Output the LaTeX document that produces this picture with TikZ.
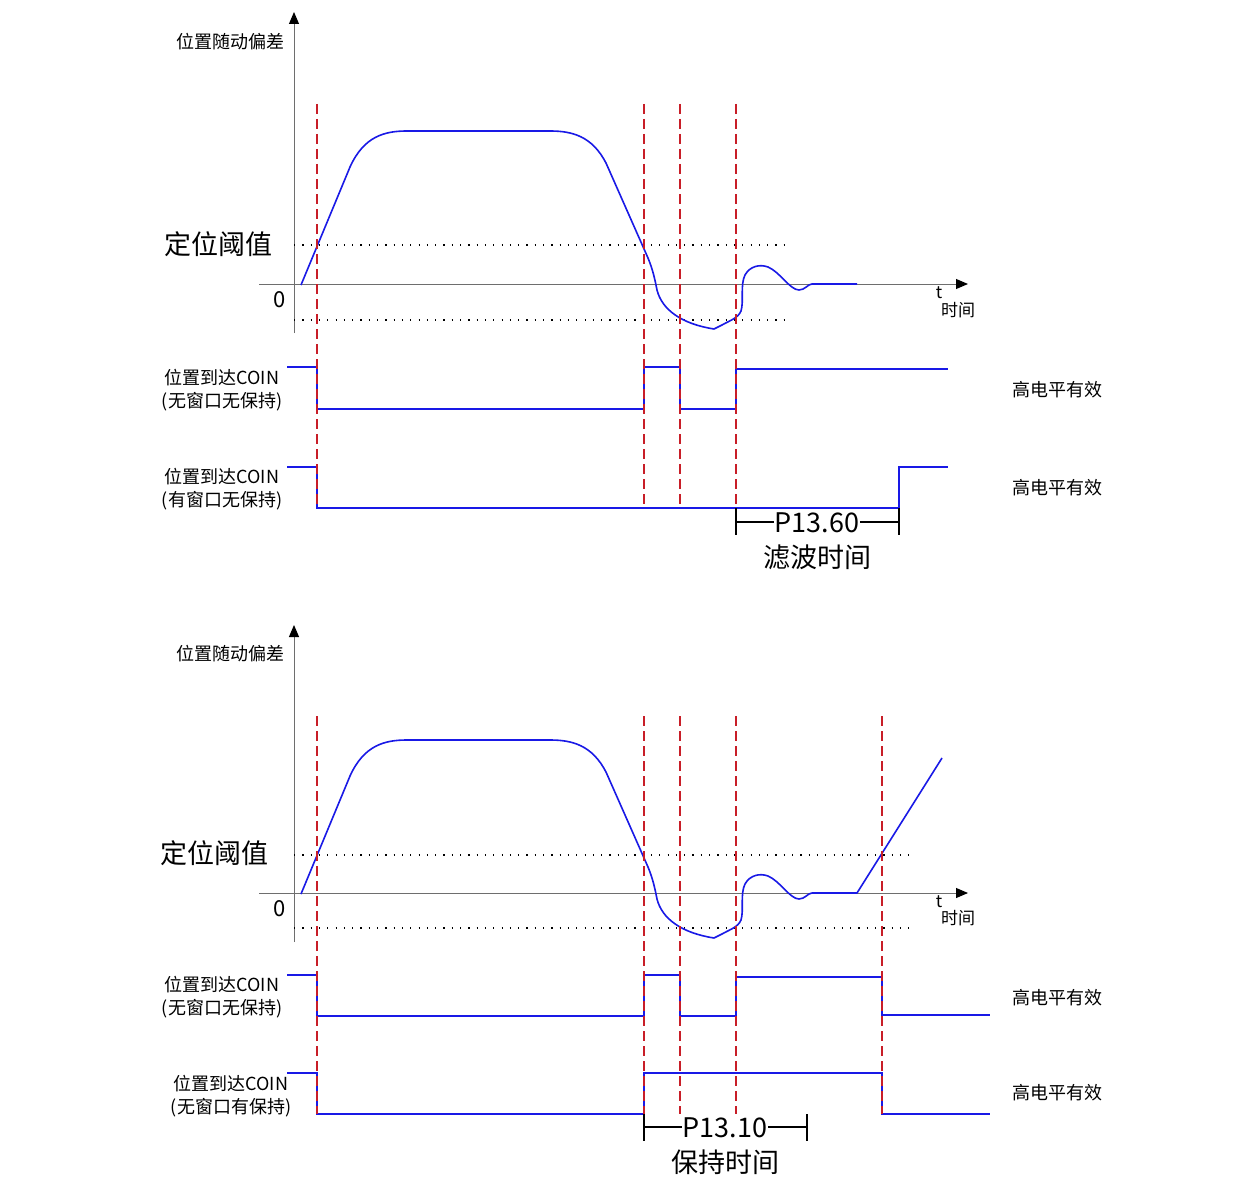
\documentclass[tikz,border=0pt]{standalone}
\usepackage{fontspec}
\newfontfamily\cjk{Noto Sans CJK SC}
\usetikzlibrary{arrows.meta}
\definecolor{sigblue}{RGB}{25,25,230}
\definecolor{mkred}{RGB}{200,30,40}
\definecolor{axgray}{RGB}{110,110,110}
\tikzset{
  axisline/.style={axgray, line width=1pt},
  axisarrow/.style={axisline, -{Triangle[length=12pt,width=10pt,color=black]}},
  dotline/.style={black, line width=1.1pt, dash pattern=on 1.2pt off 7.1pt},
  mkline/.style={mkred, line width=1.4pt, dash pattern=on 10pt off 5pt},
  sigline/.style={sigblue, line width=1.6pt},
  curveline/.style={sigblue, line width=1.6pt, line join=round},
  brline/.style={black, line width=1.2pt},
  lbl/.style={font=\cjk\fontsize{18}{23}\selectfont, inner sep=0pt, align=center, text=black},
  biglbl/.style={font=\cjk\fontsize{27}{30}\selectfont, inner sep=0pt, text=black},
  zerolbl/.style={font=\cjk\fontsize{22}{24}\selectfont, inner sep=0pt, text=black},
  tlbl/.style={font=\cjk\fontsize{17}{19}\selectfont, inner sep=0pt, text=black},
  parlbl/.style={font=\cjk\fontsize{27}{30}\selectfont, inner sep=1pt, fill=white, text=black},
}
\newcommand\devpath{(301,285) -- (350,167) .. controls (364,136) and (385,131) .. (407,131) -- (550,131) .. controls (572,131) and (592,136) .. (606,163) -- (648,258) .. controls (653,270) and (655,280) .. (657,290) .. controls (662,310) and (682,324) .. (714,329) -- (722,325) .. controls (731,320) and (738,318) .. (741,311) .. controls (744,302) and (740,285) .. (745,275) .. controls (750,266) and (760,264) .. (768,267) .. controls (780,272) and (790,290) .. (799,290) .. controls (805,290) and (808,284) .. (812,284)}
\begin{document}
\begin{tikzpicture}[x=1pt,y=-1pt]
\useasboundingbox (0,0) rectangle (1245,1196);
\fill[white] (0,0) rectangle (1245,1196);

% ================= TOP PANEL =================
\coordinate (tyb) at (294,333);
\coordinate (tyt) at (294,12);
\coordinate (txl) at (259,284);
\coordinate (txr) at (968,284);
\draw[axisarrow] (tyb) -- (tyt);
\draw[axisarrow] (txl) -- (txr);

\node[lbl] (tylab) at (230,42) {位置随动偏差};
\node[biglbl] (tthr) at (218,244) {定位阈值};
\node[zerolbl] (tzero) at (280,300) {0};
\node[tlbl] (tt) at (939,293) {t};
\node[tlbl] (ttime) at (958,310) {时间};

\coordinate (tdu1) at (294,245); \coordinate (tdu2) at (790,245);
\coordinate (tdl1) at (294,320); \coordinate (tdl2) at (790,320);
\draw[dotline] (tdu1) -- (tdu2);
\draw[dotline] (tdl1) -- (tdl2);

\draw[curveline] \devpath -- (857,284);

% COIN rows
\draw[sigline] (287,367) -- (317,367) -- (317,409) -- (644,409) -- (644,367) -- (680,367) -- (680,409) -- (736,409) -- (736,369) -- (948,369);
\draw[sigline] (287,467) -- (317,467) -- (317,508) -- (899,508) -- (899,467) -- (948,467);

\node[lbl] (tc1) at (222,390) {位置到达COIN\\(无窗口无保持)};
\node[lbl] (tc2) at (222,489) {位置到达COIN\\(有窗口无保持)};
\node[lbl] (th1) at (1057,390) {高电平有效};
\node[lbl] (th2) at (1057,488) {高电平有效};

\foreach \xx in {317,644,680,736}{
  \draw[mkline] (\xx,104) -- (\xx,508);
}

% bracket
\coordinate (tbl) at (736,522); \coordinate (tbr) at (899,522);
\draw[brline] (736,508) -- (736,535);
\draw[brline] (899,508) -- (899,535);
\draw[brline] (tbl) -- (tbr);
\node[parlbl] (tp) at (817,523) {P13.60};
\node[biglbl] (tpt) at (817,557) {滤波时间};

% ================= BOTTOM PANEL =================
\coordinate (byb) at (294,942);
\coordinate (byt) at (294,625);
\coordinate (bxl) at (259,893);
\coordinate (bxr) at (968,893);
\draw[axisarrow] (byb) -- (byt);
\draw[axisarrow] (bxl) -- (bxr);

\node[lbl] (bylab) at (230,654) {位置随动偏差};
\node[biglbl] (bthr) at (214,853) {定位阈值};
\node[zerolbl] (bzero) at (280,909) {0};
\node[tlbl] (bt) at (939,902) {t};
\node[tlbl] (btime) at (958,918) {时间};

\coordinate (bdu1) at (294,855); \coordinate (bdu2) at (912,855);
\coordinate (bdl1) at (294,928); \coordinate (bdl2) at (912,928);
\draw[dotline] (bdu1) -- (bdu2);
\draw[dotline] (bdl1) -- (bdl2);

\begin{scope}[yshift=-609pt]
\draw[curveline] \devpath -- (857,284) -- (942,149);
\end{scope}

\draw[sigline] (287,975) -- (317,975) -- (317,1016) -- (644,1016) -- (644,975) -- (680,975) -- (680,1016) -- (736,1016) -- (736,977) -- (882,977) -- (882,1015) -- (990,1015);
\draw[sigline] (287,1073) -- (317,1073) -- (317,1114) -- (644,1114) -- (644,1073) -- (882,1073) -- (882,1114) -- (990,1114);

\node[lbl] (bc1) at (222,997) {位置到达COIN\\(无窗口无保持)};
\node[lbl] (bc2) at (231,1096) {位置到达COIN\\(无窗口有保持)};
\node[lbl] (bh1) at (1057,998) {高电平有效};
\node[lbl] (bh2) at (1057,1093) {高电平有效};

\foreach \xx in {317,644,680,736,882}{
  \draw[mkline] (\xx,716) -- (\xx,1114);
}

\coordinate (bbl) at (644,1127); \coordinate (bbr) at (807,1127);
\draw[brline] (644,1114) -- (644,1141);
\draw[brline] (807,1114) -- (807,1141);
\draw[brline] (bbl) -- (bbr);
\node[parlbl] (bp) at (725,1128) {P13.10};
\node[biglbl] (bpt) at (725,1162) {保持时间};
\end{tikzpicture}
\end{document}
